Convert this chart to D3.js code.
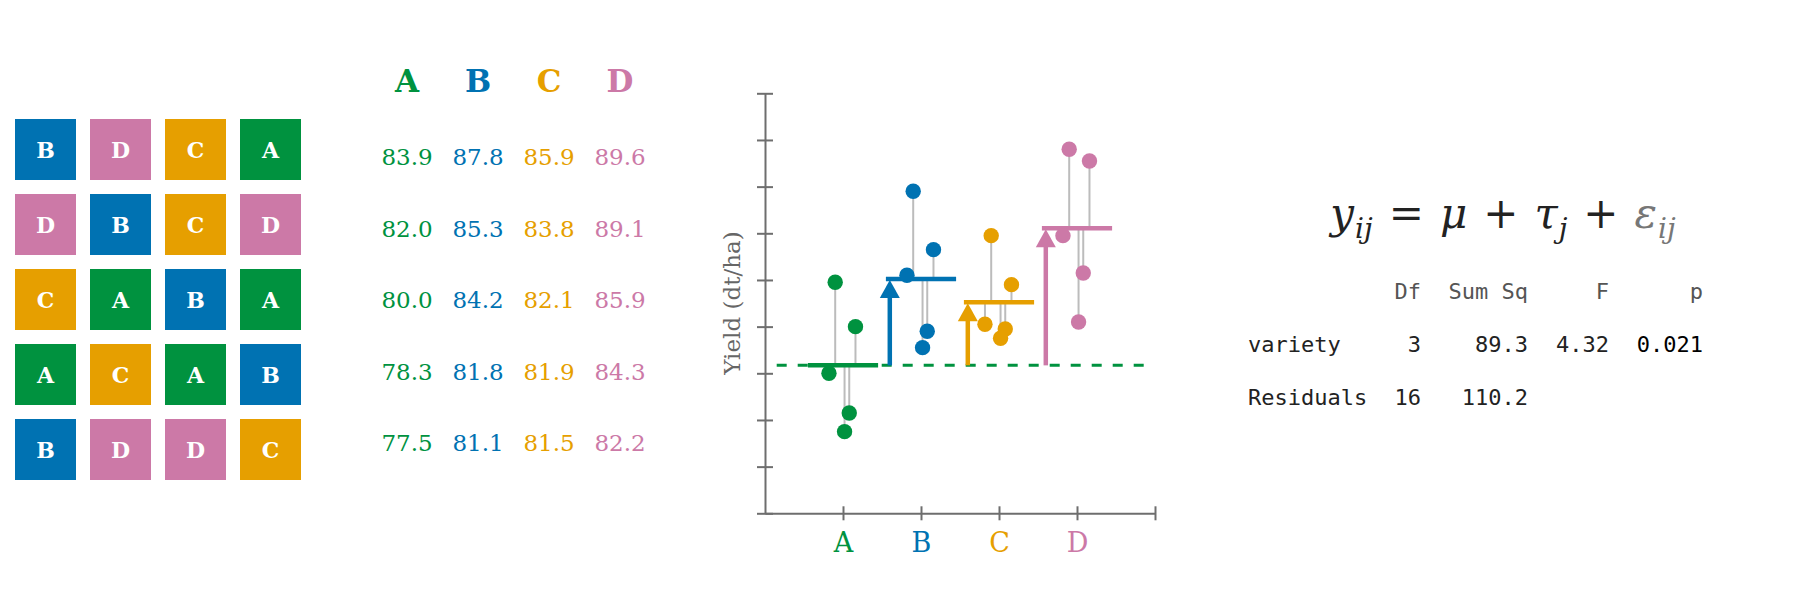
<!DOCTYPE html>
<html>
<head>
<meta charset="utf-8">
<script src="https://cdn.jsdelivr.net/npm/d3@7"></script>
<style>
body{margin:0;background:#fff;}
svg{display:block;}
</style>
</head>
<body>
<svg></svg>
<script>
//data
var varieties = ["A","B","C","D"]
var colors = ["#00923f","#0072b2","#e69f00","#cc79a7"]
var yieldA = [83.9,82.0,80.0,78.3,77.5]
var yieldB = [87.8,85.3,84.2,81.8,81.1]
var yieldC = [85.9,83.8,82.1,81.9,81.5]
var yieldD = [89.6,89.1,85.9,84.3,82.2]
var jitter = [-0.10,0.16,-0.18,0.08,0.02]
var fieldLayout = [
    ["B","D","C","A"],
    ["D","B","C","D"],
    ["C","A","B","A"],
    ["A","C","A","B"],
    ["B","D","D","C"]
]
var yTicks = [74,76,78,80,82,84,86,88,90,92]
var anovaHeads = ["Df","Sum Sq","F","p"]
var anovaTerms = ["variety","Residuals"]
var anovaDf = ["3","16"]
var anovaSS = ["89.3","110.2"]
var anovaF = ["4.32",""]
var anovaP = ["0.021",""]

var yields = [yieldA,yieldB,yieldC,yieldD]
var colorScale = d3.scaleOrdinal().domain(varieties).range(colors)

var svg = d3.select("svg")
    .attr("width",1800)
    .attr("height",600)

var serif = "DejaVu Serif"

//field layout squares
var drawField = function()
{
    var colX = d3.scaleBand().domain([0,1,2,3]).range([15,301]).paddingInner(14/75)
    var rowY = d3.scaleBand().domain([0,1,2,3,4]).range([119,480]).paddingInner(14/75)
    var cells = []
    fieldLayout.forEach(function(row,r){
        row.forEach(function(v,c){ cells.push({r:r,c:c,v:v}) })
    })
    var g = svg.append("g").classed("field",true)
    var cell = g.selectAll("g")
        .data(cells)
        .enter()
        .append("g")
        .attr("transform",function(d){
            return "translate("+colX(d.c)+","+rowY(d.r)+")"
        })
    cell.append("rect")
        .attr("width",colX.bandwidth())
        .attr("height",rowY.bandwidth())
        .attr("fill",function(d){return colorScale(d.v)})
    cell.append("text")
        .text(function(d){return d.v})
        .attr("x",colX.bandwidth()/2)
        .attr("y",rowY.bandwidth()/2+8)
        .attr("text-anchor","middle")
        .attr("fill","#fff")
        .attr("font-family",serif)
        .attr("font-weight","bold")
        .attr("font-size",22)
}

//numbers table
var drawTable = function()
{
    var colX = d3.scalePoint().domain(varieties).range([407,620])
    var rowY = d3.scalePoint().domain([0,1,2,3,4]).range([165,451])
    var g = svg.append("g").classed("table",true)
    g.selectAll("text.head")
        .data(varieties)
        .enter()
        .append("text")
        .classed("head",true)
        .text(function(d){return d})
        .attr("x",function(d){return colX(d)})
        .attr("y",92)
        .attr("text-anchor","middle")
        .attr("font-family",serif)
        .attr("font-weight","bold")
        .attr("font-size",31)
        .attr("fill",function(d){return colorScale(d)})
    varieties.forEach(function(v,i){
        g.selectAll("text.col"+v)
            .data(yields[i])
            .enter()
            .append("text")
            .attr("class","col"+v)
            .text(function(d){return d.toFixed(1)})
            .attr("x",colX(v))
            .attr("y",function(d,j){return rowY(j)})
            .attr("text-anchor","middle")
            .attr("font-family",serif)
            .attr("font-size",23)
            .attr("fill",colorScale(v))
    })
}

//yield plot
var drawPlot = function()
{
    var x = d3.scaleLinear().domain([0,5]).range([765,1155])
    var y = d3.scaleLinear().domain([74,92]).range([513.3,93.3])
    var g = svg.append("g").classed("plot",true)
    var axisColor = "#6e6e6e"

    var yAxis = d3.axisLeft(y).tickValues(yTicks).tickSize(8).tickSizeOuter(0).tickFormat("")
    var ya = g.append("g")
        .attr("transform","translate("+x(0)+",0)")
        .call(yAxis)
    ya.selectAll(".tick line").attr("x1",8)

    var xAxis = d3.axisBottom(x).tickValues([1,2,3,4,5]).tickSize(7).tickSizeOuter(0)
        .tickPadding(13)
        .tickFormat(function(d){return varieties[d-1]||""})
    var xa = g.append("g")
        .attr("transform","translate(0,"+y(74)+")")
        .call(xAxis)
    xa.selectAll(".tick line").attr("y1",-7)
    xa.selectAll(".tick text")
        .attr("font-family",serif)
        .attr("font-size",27)
        .attr("fill",function(d){return colorScale(varieties[d-1])})

    g.selectAll(".domain,.tick line")
        .attr("stroke",axisColor)
        .attr("stroke-width",2)

    g.append("text")
        .text("Yield (dt/ha)")
        .attr("transform","translate(740,303) rotate(-90)")
        .attr("text-anchor","middle")
        .attr("font-family",serif)
        .attr("font-size",23)
        .attr("fill","#666")

    var means = yields.map(function(ys){return d3.mean(ys)})
    var base = means[0]

    var pts = []
    yields.forEach(function(ys,i){
        ys.forEach(function(v,j){
            pts.push({g:i,v:v,x:i+1+jitter[j],m:means[i]})
        })
    })

    //residual lines
    g.selectAll("line.resid")
        .data(pts)
        .enter()
        .append("line")
        .classed("resid",true)
        .attr("x1",function(d){return x(d.x)})
        .attr("x2",function(d){return x(d.x)})
        .attr("y1",function(d){return y(d.m)})
        .attr("y2",function(d){return y(d.v)})
        .attr("stroke","#bcbcbc")
        .attr("stroke-width",2)

    //reference line at A mean
    g.append("line")
        .attr("x1",x(0.15))
        .attr("x2",x(4.9))
        .attr("y1",y(base))
        .attr("y2",y(base))
        .attr("stroke",colors[0])
        .attr("stroke-width",3)
        .attr("stroke-dasharray","10,11")

    //arrows (effects relative to A)
    var arrows = means.map(function(m,i){return {g:i,m:m}}).filter(function(d){return d.g>0})
    g.selectAll("line.arrow")
        .data(arrows)
        .enter()
        .append("line")
        .classed("arrow",true)
        .attr("x1",function(d){return x(d.g+1-0.4)})
        .attr("x2",function(d){return x(d.g+1-0.4)})
        .attr("y1",y(base))
        .attr("y2",function(d){return y(d.m)+14})
        .attr("stroke",function(d){return colors[d.g]})
        .attr("stroke-width",4.5)
    g.selectAll("path.head")
        .data(arrows)
        .enter()
        .append("path")
        .classed("head",true)
        .attr("d",function(d){
            var ax = x(d.g+1-0.4), ay = y(d.m)
            return "M"+ax+","+(ay+1)+"L"+(ax+10)+","+(ay+19)+"L"+(ax-10)+","+(ay+19)+"Z"
        })
        .attr("fill",function(d){return colors[d.g]})

    //group means
    g.selectAll("line.mean")
        .data(means)
        .enter()
        .append("line")
        .classed("mean",true)
        .attr("x1",function(d,i){return x(i+1-0.45)})
        .attr("x2",function(d,i){return x(i+1+0.45)})
        .attr("y1",function(d){return y(d)})
        .attr("y2",function(d){return y(d)})
        .attr("stroke",function(d,i){return colors[i]})
        .attr("stroke-width",4.5)

    //points
    g.selectAll("circle")
        .data(pts)
        .enter()
        .append("circle")
        .attr("cx",function(d){return x(d.x)})
        .attr("cy",function(d){return y(d.v)})
        .attr("r",7.7)
        .attr("fill",function(d){return colors[d.g]})
}

//model formula
var drawFormula = function()
{
    var parts = [
        {t:"y",sub:"ij",it:true},
        {t:"=",op:true},
        {t:"μ",it:true},
        {t:"+",op:true},
        {t:"τ",sub:"j",it:true},
        {t:"+",op:true},
        {t:"ε",sub:"ij",it:true,grey:true}
    ]
    var txt = svg.append("text")
        .attr("x",1503)
        .attr("y",228)
        .attr("text-anchor","middle")
        .attr("font-family","DejaVu Serif")
        .attr("font-size",42)
        .attr("fill","#222")
    var shift = 0
    parts.forEach(function(p,i){
        txt.append("tspan")
            .text(p.t)
            .attr("font-style",p.it?"italic":"normal")
            .attr("fill",p.grey?"#777":null)
            .attr("dx",i>0?16:0)
            .attr("dy",-shift)
        shift = 0
        if(p.sub){
            txt.append("tspan")
                .text(p.sub)
                .attr("font-style","italic")
                .attr("font-size",28)
                .attr("dx",1)
                .attr("dy",10)
                .attr("fill",p.grey?"#777":null)
            shift = 10
        }
    })
}

//anova table
var drawAnova = function()
{
    var mono = "DejaVu Sans Mono"
    var colRight = [1421,1528,1609,1703]
    var rowBase = [352,405]
    var g = svg.append("g").classed("anova",true)
        .attr("font-family",mono)
        .attr("font-size",22)
    g.selectAll("text.h")
        .data(anovaHeads)
        .enter()
        .append("text")
        .classed("h",true)
        .text(function(d){return d})
        .attr("x",function(d,i){return colRight[i]})
        .attr("y",299)
        .attr("text-anchor","end")
        .attr("fill","#555")
    g.selectAll("text.term")
        .data(anovaTerms)
        .enter()
        .append("text")
        .classed("term",true)
        .text(function(d){return d})
        .attr("x",1248)
        .attr("y",function(d,i){return rowBase[i]})
        .attr("fill","#222")
    var cols = [anovaDf,anovaSS,anovaF,anovaP]
    cols.forEach(function(col,c){
        g.selectAll("text.c"+c)
            .data(col)
            .enter()
            .append("text")
            .attr("class","c"+c)
            .text(function(d){return d})
            .attr("x",colRight[c])
            .attr("y",function(d,i){return rowBase[i]})
            .attr("text-anchor","end")
            .attr("fill",c==3?"#000":"#222")
    })
}

drawField()
drawTable()
drawPlot()
drawFormula()
drawAnova()
</script>
</body>
</html>
